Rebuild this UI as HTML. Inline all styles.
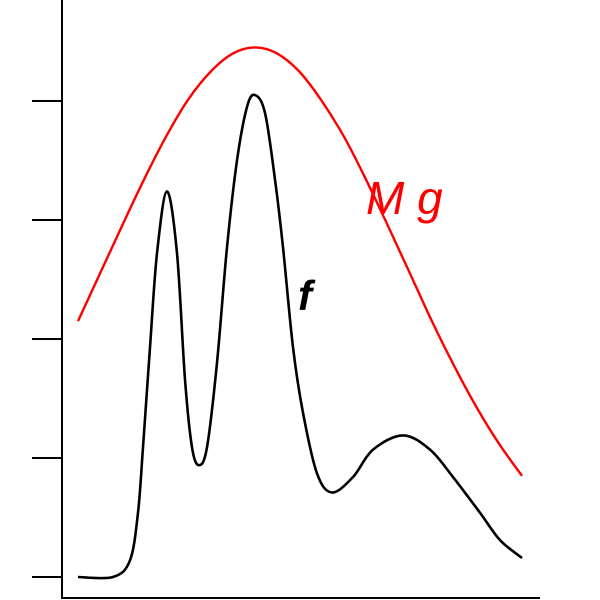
<!DOCTYPE html>
<html><head><meta charset="utf-8"><style>html,body{margin:0;padding:0;background:#fff}svg{display:block}</style></head>
<body>
<svg id="chart" width="600" height="600" viewBox="0 0 600 600" xmlns="http://www.w3.org/2000/svg">
<g id="axes"></g>
<path id="envelope" fill="none" stroke="#f00" stroke-width="2.4"/>
<path id="target" fill="none" stroke="#000" stroke-width="2.6"/>
<text x="366" y="214" font-family="Liberation Sans, sans-serif" font-style="italic" font-size="46" fill="#f00">M g</text>
<text x="298" y="310" font-family="Liberation Sans, sans-serif" font-style="italic" font-weight="bold" font-size="42" fill="#000">f</text>
</svg>
<script>
const yTicks = [0, 1, 2, 3, 4];
const fX = [0, 35, 52, 60, 65, 72, 79, 89, 99, 107, 114, 121, 129, 139, 149, 159, 169, 177, 187, 197, 205, 215, 225, 239, 254, 275, 295, 325, 352, 375, 402, 422, 444];
const fY = [0, 0, 0.14, 0.54, 1.09, 1.93, 2.72, 3.24, 2.72, 1.66, 1.09, 0.94, 1.09, 1.80, 2.77, 3.50, 3.95, 4.05, 3.90, 3.34, 2.77, 1.93, 1.38, 0.87, 0.71, 0.84, 1.07, 1.19, 1.07, 0.84, 0.54, 0.31, 0.16];
const gX = [0, 22, 44, 66, 88, 110, 133, 155, 177, 199, 221, 243, 266, 288, 310, 332, 355, 377, 399, 421, 444];
const gY = [2.15, 2.55, 2.95, 3.34, 3.70, 4.01, 4.25, 4.40, 4.45, 4.40, 4.25, 4.01, 3.70, 3.34, 2.95, 2.55, 2.13, 1.76, 1.42, 1.12, 0.85];

const sx = v => 78 + v;
const sy = v => 577 - v * 119;
function smooth(xs, ys) {
  const p = xs.map((x, i) => [sx(x), sy(ys[i])]);
  let d = 'M' + p[0][0] + ',' + p[0][1];
  for (let i = 0; i < p.length - 1; i++) {
    const p0 = p[Math.max(0, i - 1)], p1 = p[i], p2 = p[i + 1], p3 = p[Math.min(p.length - 1, i + 2)];
    const c1 = [p1[0] + (p2[0] - p0[0]) / 6, p1[1] + (p2[1] - p0[1]) / 6];
    const c2 = [p2[0] - (p3[0] - p1[0]) / 6, p2[1] - (p3[1] - p1[1]) / 6];
    d += 'C' + c1.join(',') + ' ' + c2.join(',') + ' ' + p2.join(',');
  }
  return d;
}
document.getElementById('target').setAttribute('d', smooth(fX, fY));
document.getElementById('envelope').setAttribute('d', smooth(gX, gY));
const ax = document.getElementById('axes');
const NS = 'http://www.w3.org/2000/svg';
function line(x1, y1, x2, y2) {
  const l = document.createElementNS(NS, 'line');
  l.setAttribute('x1', x1); l.setAttribute('y1', y1); l.setAttribute('x2', x2); l.setAttribute('y2', y2);
  l.setAttribute('stroke', '#000'); l.setAttribute('stroke-width', '2');
  ax.appendChild(l); return l;
}
const yAxis = line(62, 0, 62, 598);


const xAxis = line(61, 598, 540, 598);


yTicks.forEach(t => {
  const tk = line(32, sy(t), 62, sy(t));
  
  
});
</script>
</body></html>
